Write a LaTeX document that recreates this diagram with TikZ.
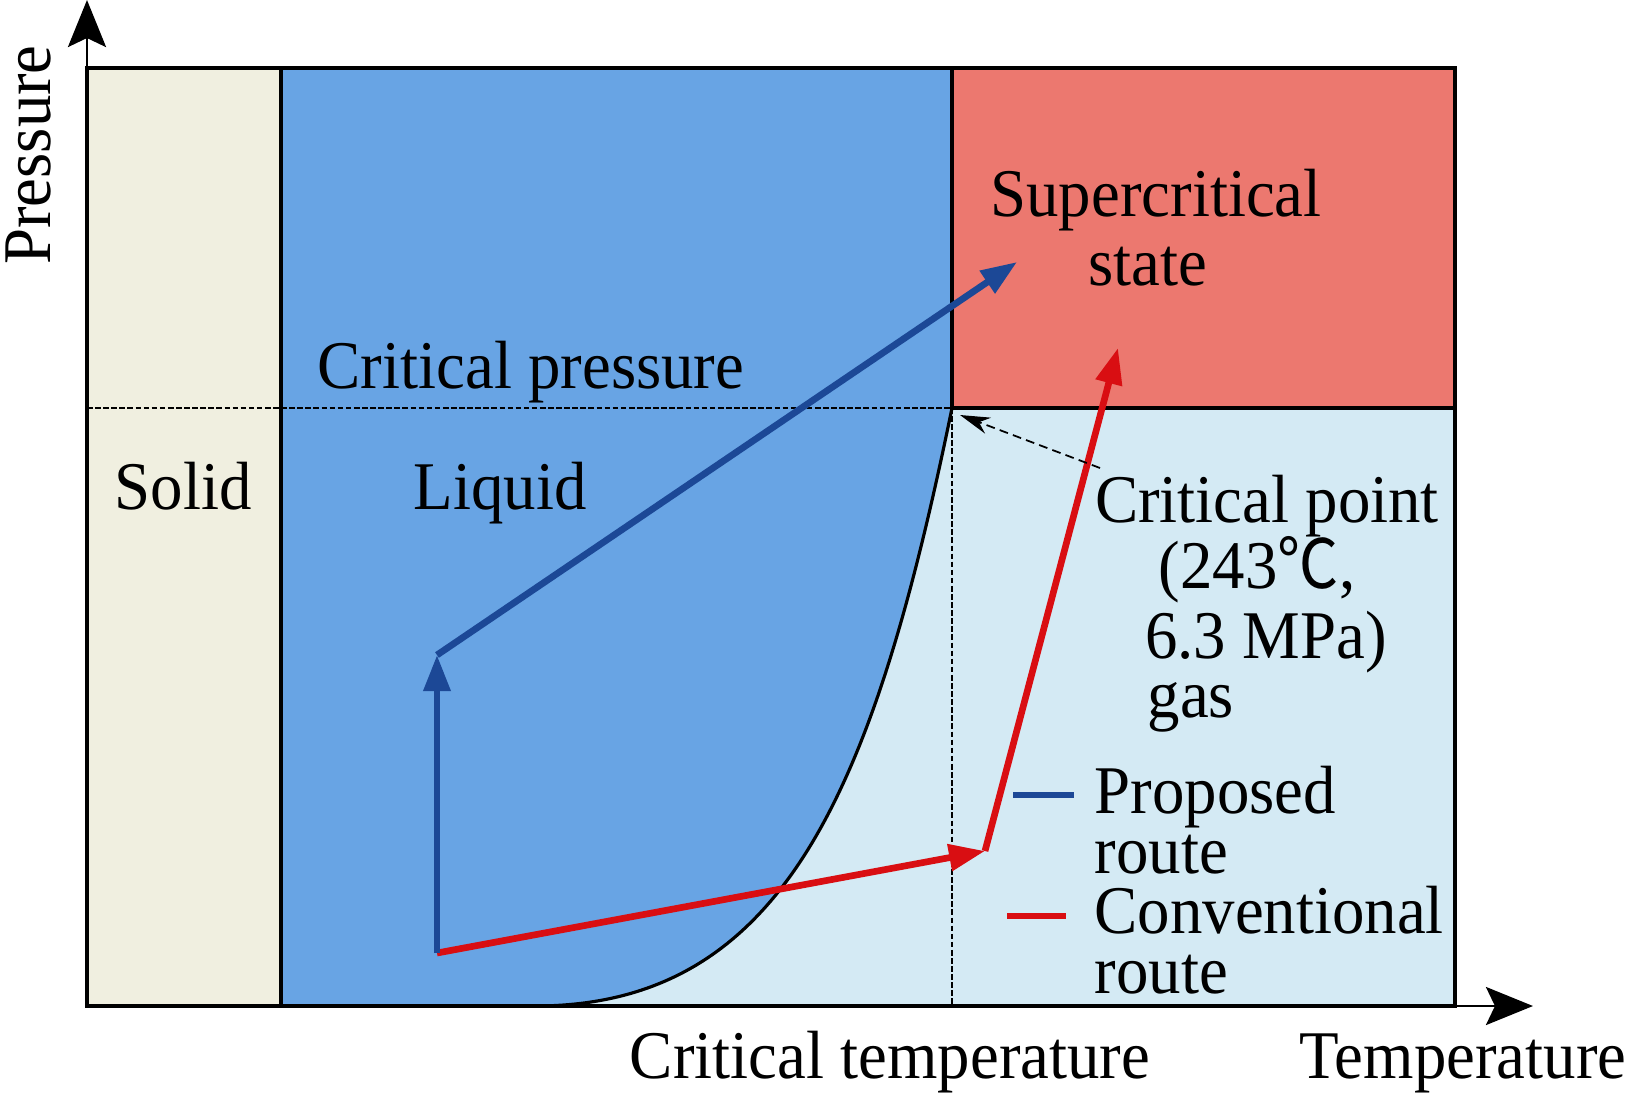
\documentclass[tikz,border=0pt]{standalone}
\usepackage{fontspec}
\setmainfont[FakeStretch=0.95]{Liberation Serif}
\newfontfamily\cjk[FakeStretch=0.9]{Noto Sans CJK SC}
\usetikzlibrary{arrows.meta}
\definecolor{solidc}{RGB}{240,239,224}
\definecolor{liquidc}{RGB}{104,164,228}
\definecolor{gasc}{RGB}{212,234,244}
\definecolor{superc}{RGB}{236,120,111}
\definecolor{propc}{RGB}{28,72,150}
\definecolor{convc}{RGB}{217,14,18}
\tikzstyle{lbl} = [inner sep=0pt, anchor=base west, font=\fontsize{19.4}{23}\selectfont]
\tikzstyle{border} = [line width=1.2pt, black]
\tikzstyle{guide} = [line width=0.6pt, dash pattern=on 1.6pt off 0.7pt]
\tikzstyle{axisarrow} = [line width=0.8pt, -{Stealth[length=0.47cm, width=0.38cm, inset=0.09cm]}]
\tikzstyle{proposed} = [propc, line width=1.9pt, -{Triangle[length=0.36cm, width=0.26cm]}]
\tikzstyle{conventional} = [convc, line width=1.9pt, -{Triangle[length=0.36cm, width=0.26cm]}]
\tikzstyle{pointer} = [line width=0.5pt, dash pattern=on 2.5pt off 1.5pt, -{Stealth[length=0.3cm, width=0.17cm]}]

\begin{document}
\begin{tikzpicture}[x=0.01cm, y=-0.01cm]
\useasboundingbox (0,0) rectangle (1629,1093);

% phase regions
\fill[solidc] (87,68) rectangle (281,1006);
\fill[liquidc] (281,68) rectangle (952,1006);
\fill[gasc] (535,1006) .. controls (785,1006) and (874,788) .. (952,408) -- (952,1006) -- cycle;
\fill[gasc] (952,408) rectangle (1455,1006);
\fill[superc] (952,68) rectangle (1455,408);

\coordinate (origin) at (87,1006);
\coordinate (ptop) at (87,0);
\coordinate (tend) at (1533,1006);
\coordinate (cp) at (952,408);
\coordinate (start) at (437,953);
\coordinate (lift) at (437,655);
\coordinate (supb) at (1017,262);
\coordinate (heat) at (985,851);
\coordinate (supr) at (1118,348);
\coordinate (note) at (1100,468);

% critical lines
\draw[guide] (87,408) -- (cp);
\draw[guide] (cp) -- (952,1006);

% borders
\draw[border] (87,68) rectangle (1455,1006);
\draw[border] (281,68) -- (281,1006);
\draw[border] (952,68) -- (cp) -- (1455,408);
\draw[line width=0.9pt] (535,1006) .. controls (785,1006) and (874,788) .. (cp);

% axes
\draw[axisarrow] (origin) -- (ptop);
\draw[axisarrow] (1455,1006) -- (tend);

% routes
\draw[conventional] (start) -- (heat);
\draw[conventional] (heat) -- (supr);
\draw[proposed] (start) -- (lift);
\draw[proposed] (lift) -- (supb);
\draw[pointer] (note) -- (960,415);

% legend
\draw[propc, line width=1.9pt] (1013,795) -- (1074,795);
\draw[convc, line width=1.9pt] (1007,916) -- (1066,916);

% labels
\node[lbl] (solid) at (114,509) {Solid};
\node[lbl] (liquid) at (413,509) {Liquid};
\node[lbl] (cpress) at (317,388) {Critical pressure};
\node[lbl, anchor=base] (super) at (1156,216) {Supercritical};
\node[lbl, anchor=base] (state) at (1148,285) {state};
\node[lbl, anchor=base] (cpoint) at (1267,522) {Critical point};
\node[lbl, anchor=base] (cptemp) at (1257,588) {(243{\cjk ℃},};
\node[lbl, anchor=base] (cppres) at (1266,658) {6.3 MPa)};
\node[lbl] (gas) at (1147,717) {gas};
\node[lbl] (prop1) at (1094,813) {Proposed};
\node[lbl] (prop2) at (1094,873) {route};
\node[lbl] (conv1) at (1094,933) {Conventional};
\node[lbl] (conv2) at (1094,993) {route};
\node[lbl, anchor=base] (ctemp) at (890,1078) {Critical temperature};
\node[lbl, anchor=base east] (temp) at (1627,1078) {Temperature};
\node[lbl, rotate=90, anchor=base] (pres) at (51,155) {Pressure};
\end{tikzpicture}
\end{document}
